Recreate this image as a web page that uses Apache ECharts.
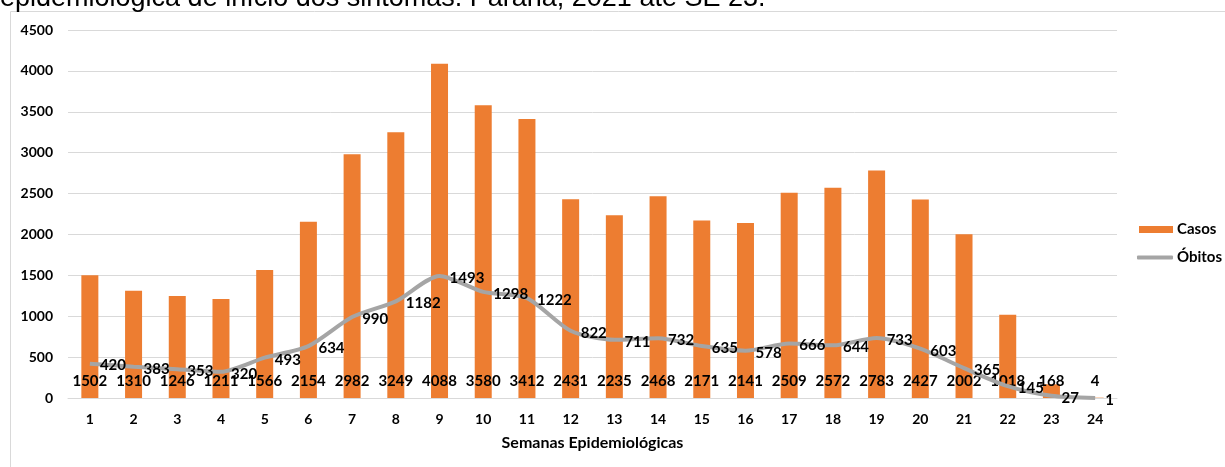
<!DOCTYPE html>
<html>
<head>
<meta charset="utf-8">
<script src="https://cdn.jsdelivr.net/npm/echarts@6/dist/echarts.min.js"></script>
<style>
  html, body { margin: 0; padding: 0; background: #fff; }
  #chart { width: 1225px; height: 467px; }
</style>
</head>
<body>
<div id="chart"></div>
<script>
// semanas epidemiológicas
const semanas = ['1','2','3','4','5','6','7','8','9','10','11','12','13','14','15','16','17','18','19','20','21','22','23','24'];
const casos = [1502, 1310, 1246, 1211, 1566, 2154, 2982, 3249, 4088, 3580, 3412, 2431, 2235, 2468, 2171, 2141, 2509, 2572, 2783, 2427, 2002, 1018, 168, 4];
const obitos = [420, 383, 353, 320, 493, 634, 990, 1182, 1493, 1298, 1222, 822, 711, 732, 635, 578, 666, 644, 733, 603, 365, 145, 27, 1];
const tituloCortado = 'epidemiológica de início dos sintomas. Paraná, 2021 até SE 23.';

const fonte = 'Lato, sans-serif';
const chart = echarts.init(document.getElementById('chart'));

chart.setOption({
  animation: false,
  textStyle: { fontFamily: fonte },
  graphic: [
    {
      type: 'rect',
      shape: { x: 10.5, y: 11.5, width: 1400, height: 600 },
      style: { fill: 'none', stroke: '#d9d9d9', lineWidth: 1 },
      silent: true
    },
    {
      type: 'text',
      left: 0,
      top: -15,
      style: {
        text: tituloCortado,
        font: '27px "Liberation Sans", Arial, sans-serif',
        fill: '#000'
      }
    }
  ],
  grid: { left: 68, right: 108, top: 30, bottom: 69 },
  legend: [
    {
      data: ['Casos'],
      orient: 'vertical',
      left: 1139,
      top: 222,
      padding: 0,
      itemWidth: 34,
      itemHeight: 7,
      itemGap: 0,
      icon: 'rect',
      textStyle: { fontFamily: fonte, fontWeight: 'bold', fontSize: 15, color: '#000', padding: [0, 0, 0, -1] }
    },
    {
      data: ['Óbitos'],
      orient: 'vertical',
      left: 1137,
      top: 250,
      padding: 0,
      itemWidth: 36,
      itemHeight: 4,
      icon: 'roundRect',
      textStyle: { fontFamily: fonte, fontWeight: 'bold', fontSize: 15, color: '#000', padding: [0, 0, 0, -1] }
    }
  ],
  xAxis: {
    type: 'category',
    data: semanas,
    name: 'Semanas Epidemiológicas',
    nameLocation: 'middle',
    nameGap: 37,
    nameTextStyle: { fontFamily: fonte, fontWeight: 'bold', fontSize: 16, color: '#000' },
    axisLine: { lineStyle: { color: '#d9d9d9', width: 1 } },
    axisTick: { show: false },
    axisLabel: { fontFamily: fonte, fontWeight: 'bold', fontSize: 14, color: '#000', margin: 14 }
  },
  yAxis: {
    type: 'value',
    min: 0,
    max: 4500,
    interval: 500,
    axisLine: { show: false },
    axisTick: { show: false },
    axisLabel: {
      fontFamily: fonte, fontWeight: 'bold', fontSize: 14, color: '#000', margin: 15,
      formatter: v => String(v)
    },
    splitLine: { lineStyle: { color: '#d9d9d9', width: 1 } }
  },
  series: [
    {
      name: 'Casos',
      type: 'bar',
      data: casos,
      barWidth: 17,
      itemStyle: { color: '#ed7d31' },
      label: {
        show: true,
        position: 'insideBottom',
        distance: 9,
        fontFamily: fonte,
        fontWeight: 'bold',
        fontSize: 15,
        color: '#000'
      }
    },
    {
      name: 'Óbitos',
      type: 'line',
      data: obitos,
      smooth: 0.25,
      symbol: 'circle',
      symbolSize: 0.1,
      itemStyle: { color: '#a5a5a5' },
      lineStyle: { color: '#a5a5a5', width: 4 },
      label: {
        show: true,
        position: 'right',
        distance: 10,
        offset: [0, 2],
        fontFamily: fonte,
        fontWeight: 'bold',
        fontSize: 15,
        color: '#000'
      }
    }
  ]
});
</script>
</body>
</html>
